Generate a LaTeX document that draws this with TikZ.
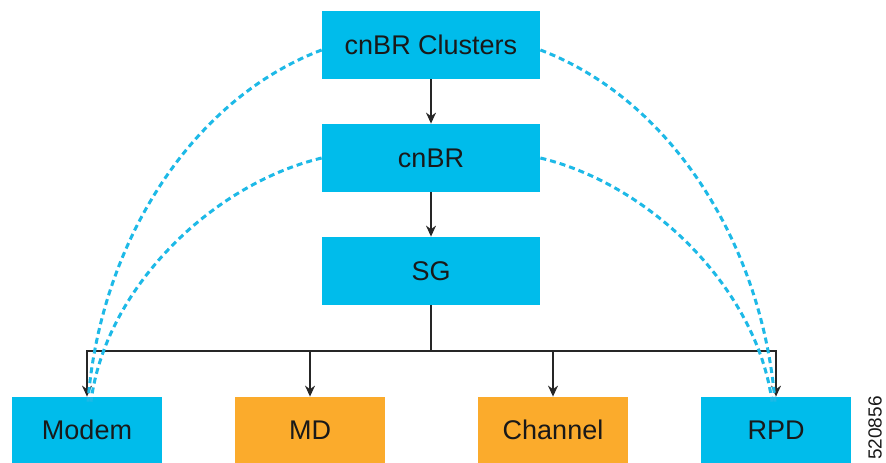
\documentclass[tikz,border=0pt]{standalone}
\usepackage{fontspec}
\setmainfont{Liberation Sans}
\usetikzlibrary{arrows.meta, positioning, calc}
\definecolor{nodeblue}{HTML}{00BCEB}
\definecolor{nodeorange}{HTML}{FBAB2C}
\definecolor{linkblue}{HTML}{1DB9E7}

\begin{document}
\begin{tikzpicture}[
  x=0.5pt, y=-0.5pt,
  every node/.style={font=\fontsize{13.5}{16}\selectfont, text=black!90},
  box/.style={fill=nodeblue, inner sep=0pt, minimum width=109pt,
              minimum height=34pt, align=center},
  leaf/.style={box, minimum width=75pt, minimum height=33pt},
  arr/.style={-{Stealth[length=5.5pt, width=5pt]}, line width=0.7pt, draw=black!85},
  trunk/.style={line width=0.7pt, draw=black!85},
  link/.style={draw=linkblue, line width=1.5pt, dash pattern=on 3pt off 2pt}
]
  \useasboundingbox (0,0) rectangle (886,462);
  \node[box] (CL) at (431,45) {cnBR Clusters};
  \node[box] (BR) at (431,158) {cnBR};
  \node[box] (SG) at (431,271) {SG};
  \node[leaf] (MO) at (87,430) {Modem};
  \node[leaf, fill=nodeorange] (MD) at (310,430) {MD};
  \node[leaf, fill=nodeorange] (CH) at (553,430) {Channel};
  \node[leaf] (RP) at (776,430) {RPD};
  \coordinate (bus) at (431,351);
  \draw[arr] (CL) -- (BR);
  \draw[arr] (BR) -- (SG);
  \draw[trunk] (SG) -- (bus);
  \draw[arr] (bus) -| (MO);
  \draw[arr] (bus) -| (MD);
  \draw[arr] (bus) -| (CH);
  \draw[arr] (bus) -| (RP);
  % dashed management links
  \draw[link] ($(CL.west)+(0,5)$) .. controls (190,100) and (100,245) .. ($(MO.north)+(1,5)$);
  \draw[link] (BR.west) .. controls (210,185) and (105,290) .. ($(MO.north)+(4,5)$);
  \draw[link] ($(CL.east)+(0,5)$) .. controls (672,100) and (762,245) .. ($(RP.north)+(-1,5)$);
  \draw[link] (BR.east) .. controls (652,185) and (757,290) .. ($(RP.north)+(-4,5)$);
  \node[font=\fontsize{9.5}{11}\selectfont, rotate=90] (ID) at (875,428) {520856};
\end{tikzpicture}
\end{document}
